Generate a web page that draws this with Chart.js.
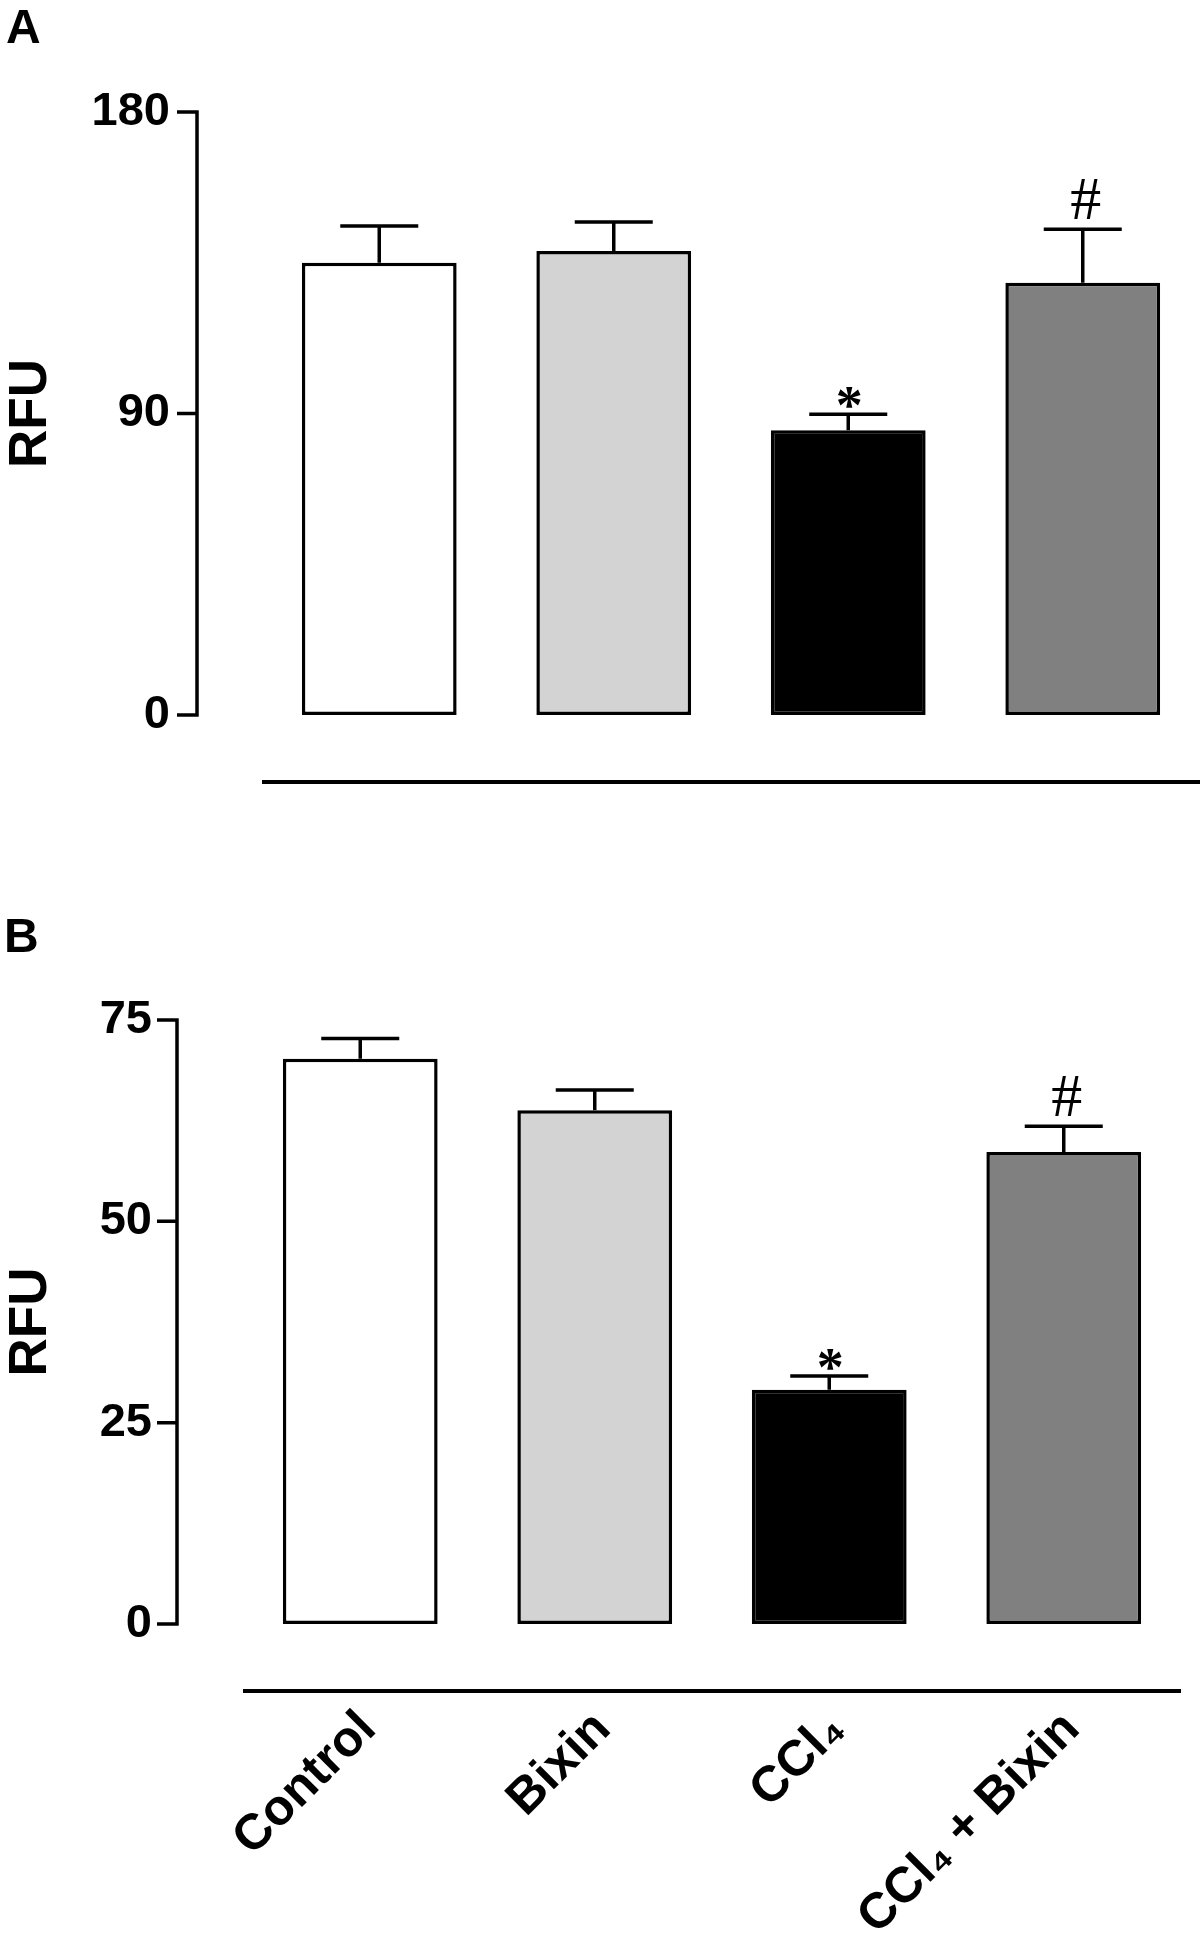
<!DOCTYPE html>
<html>
<head>
<meta charset="utf-8">
<script src="https://cdn.jsdelivr.net/npm/chart.js@4.4.1/dist/chart.umd.min.js"></script>
<style>
  body { margin: 0; background: #fff; }
  #wrap { position: relative; width: 1200px; height: 1955px; background: #fff; }
  canvas { position: absolute; left: 0; }
</style>
</head>
<body>
<div id="wrap">
  <canvas id="chartA" width="1200" height="900" style="top:0"></canvas>
  <canvas id="chartB" width="1200" height="1055" style="top:900px"></canvas>
</div>
<script>
// groups (same for both panels)
const categories = ['Control', 'Bixin', 'CCl₄', 'CCl₄ + Bixin'];
const barColors = ['#ffffff', '#d3d3d3', '#000000', '#808080'];

// panel A
const meanA = [135, 138.5, 85, 129];
const semA = [11, 8.7, 4.8, 16];
const ticksA = [0, 90, 180];
const marksA = ['', '', '*', '#'];

// panel B
const meanB = [70.2, 63.8, 29.1, 58.6];
const semB = [2.5, 2.5, 1.7, 3.2];
const ticksB = [0, 25, 50, 75];
const marksB = ['', '', '*', '#'];

// axis line, ticks, separator, error bars, significance marks, panel letter
const figPlugin = {
  id: 'figPlugin',
  afterDatasetsDraw(chart, args, opts) {
    const ctx = chart.ctx;
    const ys = chart.scales.y;
    const area = chart.chartArea;
    ctx.save();
    ctx.strokeStyle = '#000';
    ctx.fillStyle = '#000';

    // y axis drawn away from the bars
    ctx.lineWidth = 3.5;
    ctx.beginPath();
    ctx.moveTo(opts.axisX, ys.getPixelForValue(ys.max) - 1.5);
    ctx.lineTo(opts.axisX, ys.getPixelForValue(0) + 1.5);
    ys.ticks.forEach(t => {
      const py = ys.getPixelForValue(t.value);
      ctx.moveTo(opts.axisX - opts.tickLen, py);
      ctx.lineTo(opts.axisX + 1.5, py);
    });
    ctx.stroke();

    // horizontal line under the bars
    ctx.lineWidth = 4;
    ctx.beginPath();
    ctx.moveTo(area.left, opts.sepY);
    ctx.lineTo(area.right, opts.sepY);
    ctx.stroke();

    // error bars (upper only)
    const meta = chart.getDatasetMeta(0);
    ctx.lineWidth = 3.5;
    meta.data.forEach((bar, i) => {
      const top = ys.getPixelForValue(opts.means[i]);
      const capY = ys.getPixelForValue(opts.means[i] + opts.sems[i]);
      ctx.beginPath();
      ctx.moveTo(bar.x, top);
      ctx.lineTo(bar.x, capY);
      ctx.moveTo(bar.x - 39, capY);
      ctx.lineTo(bar.x + 39, capY);
      ctx.stroke();

      const m = opts.marks[i];
      if (m === '*') {
        ctx.font = 'bold 54px "Liberation Serif"';
        ctx.textAlign = 'center';
        ctx.textBaseline = 'alphabetic';
        ctx.fillText(m, bar.x + 1, capY + 9);
      } else if (m === '#') {
        ctx.font = '62px "Liberation Serif"';
        ctx.textAlign = 'center';
        ctx.textBaseline = 'alphabetic';
        ctx.fillText(m, bar.x + 3, capY - 10);
      }
    });

    // panel letter
    ctx.font = 'bold 48px "Liberation Sans"';
    ctx.textAlign = 'left';
    ctx.textBaseline = 'alphabetic';
    ctx.fillText(opts.letter, opts.letterX, opts.letterY);
    ctx.restore();
  }
};

function makeChart(id, means, sems, ticks, marks, cfg) {
  return new Chart(document.getElementById(id), {
    type: 'bar',
    data: {
      labels: categories,
      datasets: [{
        data: means,
        backgroundColor: barColors,
        borderColor: '#000',
        borderWidth: 3.5,
        borderSkipped: false,
        barPercentage: 0.66,
        categoryPercentage: 1
      }]
    },
    options: {
      responsive: false,
      animation: false,
      devicePixelRatio: 1,
      layout: { padding: { top: cfg.top, right: cfg.right, left: 0, bottom: 0 } },
      plugins: {
        legend: { display: false },
        tooltip: { enabled: false },
        figPlugin: {
          means: means, sems: sems, marks: marks,
          axisX: cfg.axisX, tickLen: 20, sepY: cfg.sepY,
          letter: cfg.letter, letterX: cfg.letterX, letterY: cfg.letterY
        }
      },
      scales: {
        x: {
          type: 'category',
          offset: true,
          grid: { display: false, drawTicks: false },
          border: { display: false },
          ticks: {
            display: cfg.showX,
            autoSkip: false,
            minRotation: 45,
            maxRotation: 45,
            padding: cfg.xPad,
            labelOffset: 8,
            color: '#000',
            font: { family: '"Liberation Sans"', weight: 'bold', size: 50 }
          },
          afterFit: s => { s.height = cfg.xHeight; }
        },
        y: {
          min: 0,
          max: ticks[ticks.length - 1],
          afterBuildTicks: s => { s.ticks = ticks.map(v => ({ value: v })); },
          grid: { display: false, drawTicks: false },
          border: { display: false },
          ticks: {
            padding: cfg.yPad,
            color: '#000',
            font: { family: '"Liberation Sans"', weight: 'bold', size: 47 }
          },
          title: {
            display: true,
            text: 'RFU',
            color: '#000',
            padding: 0,
            font: { family: '"Liberation Sans"', weight: 'bold', size: 53 }
          },
          // the big label padding should not push the plot area down
          afterFit: s => { s.width = cfg.left; s.paddingTop = 0; s.paddingBottom = 0; }
        }
      }
    },
    plugins: [figPlugin]
  });
}

makeChart('chartA', meanA, semA, ticksA, marksA, {
  top: 112, right: 0, left: 262, xHeight: 185, xPad: 0, showX: false,
  axisX: 197, sepY: 782, yPad: 92,
  letter: 'A', letterX: 6, letterY: 43
});

makeChart('chartB', meanB, semB, ticksB, marksB, {
  top: 120, right: 19, left: 243, xHeight: 331, xPad: 76, showX: true,
  axisX: 177, sepY: 791, yPad: 91,
  letter: 'B', letterX: 4, letterY: 52
});
</script>
</body>
</html>
